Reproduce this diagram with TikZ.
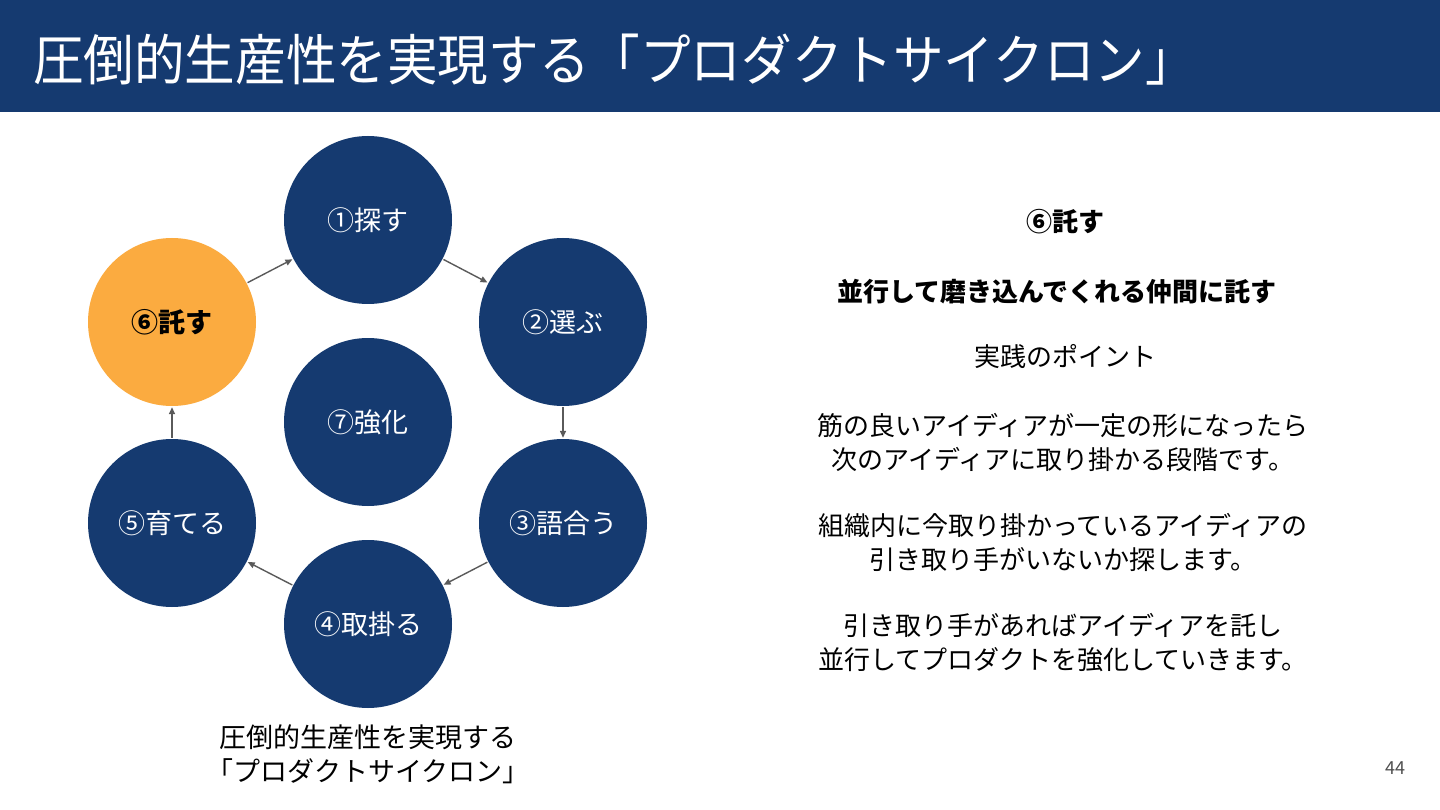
\documentclass[tikz,border=0pt]{standalone}
\usepackage{fontspec}
\setmainfont{Noto Sans CJK JP}
\setsansfont{Noto Sans CJK JP}
\usetikzlibrary{arrows.meta}
\definecolor{navy}{RGB}{21,58,112}
\definecolor{orangec}{RGB}{251,171,64}
\definecolor{arrowgray}{RGB}{90,90,90}
\definecolor{pagegray}{RGB}{80,80,80}
\tikzset{
  cyc/.style={circle, fill=navy, draw=none, minimum size=168pt, inner sep=0pt, text=white, font=\fontsize{27}{30}\selectfont},
  hot/.style={cyc, fill=orangec, text=black, font=\fontsize{27}{30}\selectfont\bfseries},
  flow/.style={draw=arrowgray, line width=1.4pt, -{Triangle[length=7pt,width=6pt]}, shorten >=1pt, shorten <=1pt},
  bodytext/.style={align=center, font=\fontsize{26}{34}\selectfont, text=black, inner sep=0pt},
}
\begin{document}
\begin{tikzpicture}[x=1pt,y=-1pt]
\useasboundingbox (0,0) rectangle (1440,810);
\fill[white] (0,0) rectangle (1440,810);
% header
\fill[navy] (0,0) rectangle (1440,112);
\node[anchor=west, text=white, inner sep=0pt, xscale=0.92, font=\fontsize{55}{60}\selectfont] (title) at (33,60) {圧倒的生産性を実現する「プロダクトサイクロン」};
% circles
\node[cyc] (n1) at (368,220) {①探す};
\node[cyc] (n2) at (563,322) {②選ぶ};
\node[cyc] (n3) at (563,523) {③語合う};
\node[cyc] (n4) at (368,624) {④取掛る};
\node[cyc] (n5) at (172,523) {⑤育てる};
\node[hot] (n6) at (172,322) {⑥託す};
\node[cyc] (n7) at (368,422) {⑦強化};
% arrows
\draw[flow] (n6) -- (n1);
\draw[flow] (n1) -- (n2);
\draw[flow] (n2) -- (n3);
\draw[flow] (n3) -- (n4);
\draw[flow] (n4) -- (n5);
\draw[flow] (n5) -- (n6);
% caption
\node[bodytext, font=\fontsize{27}{34}\selectfont] (cap) at (368,754) {圧倒的生産性を実現する\\「プロダクトサイクロン」};
% right column
\node[bodytext, font=\fontsize{26}{30}\selectfont\bfseries] (h1) at (1065,222) {⑥託す};
\node[bodytext, font=\fontsize{26}{30}\selectfont\bfseries] (h2) at (1057,292) {並行して磨き込んでくれる仲間に託す};
\node[bodytext] (h3) at (1065,357) {実践のポイント};
\node[bodytext] (p1) at (1063,442) {筋の良いアイディアが一定の形になったら\\次のアイディアに取り掛かる段階です。};
\node[bodytext] (p2) at (1063,542) {組織内に今取り掛かっているアイディアの\\引き取り手がいないか探します。};
\node[bodytext] (p3) at (1063,643) {引き取り手があればアイディアを託し\\並行してプロダクトを強化していきます。};
% page number
\node[text=pagegray, inner sep=0pt, font=\fontsize{18}{20}\selectfont] (pg) at (1395,768) {44};
\end{tikzpicture}
\end{document}
